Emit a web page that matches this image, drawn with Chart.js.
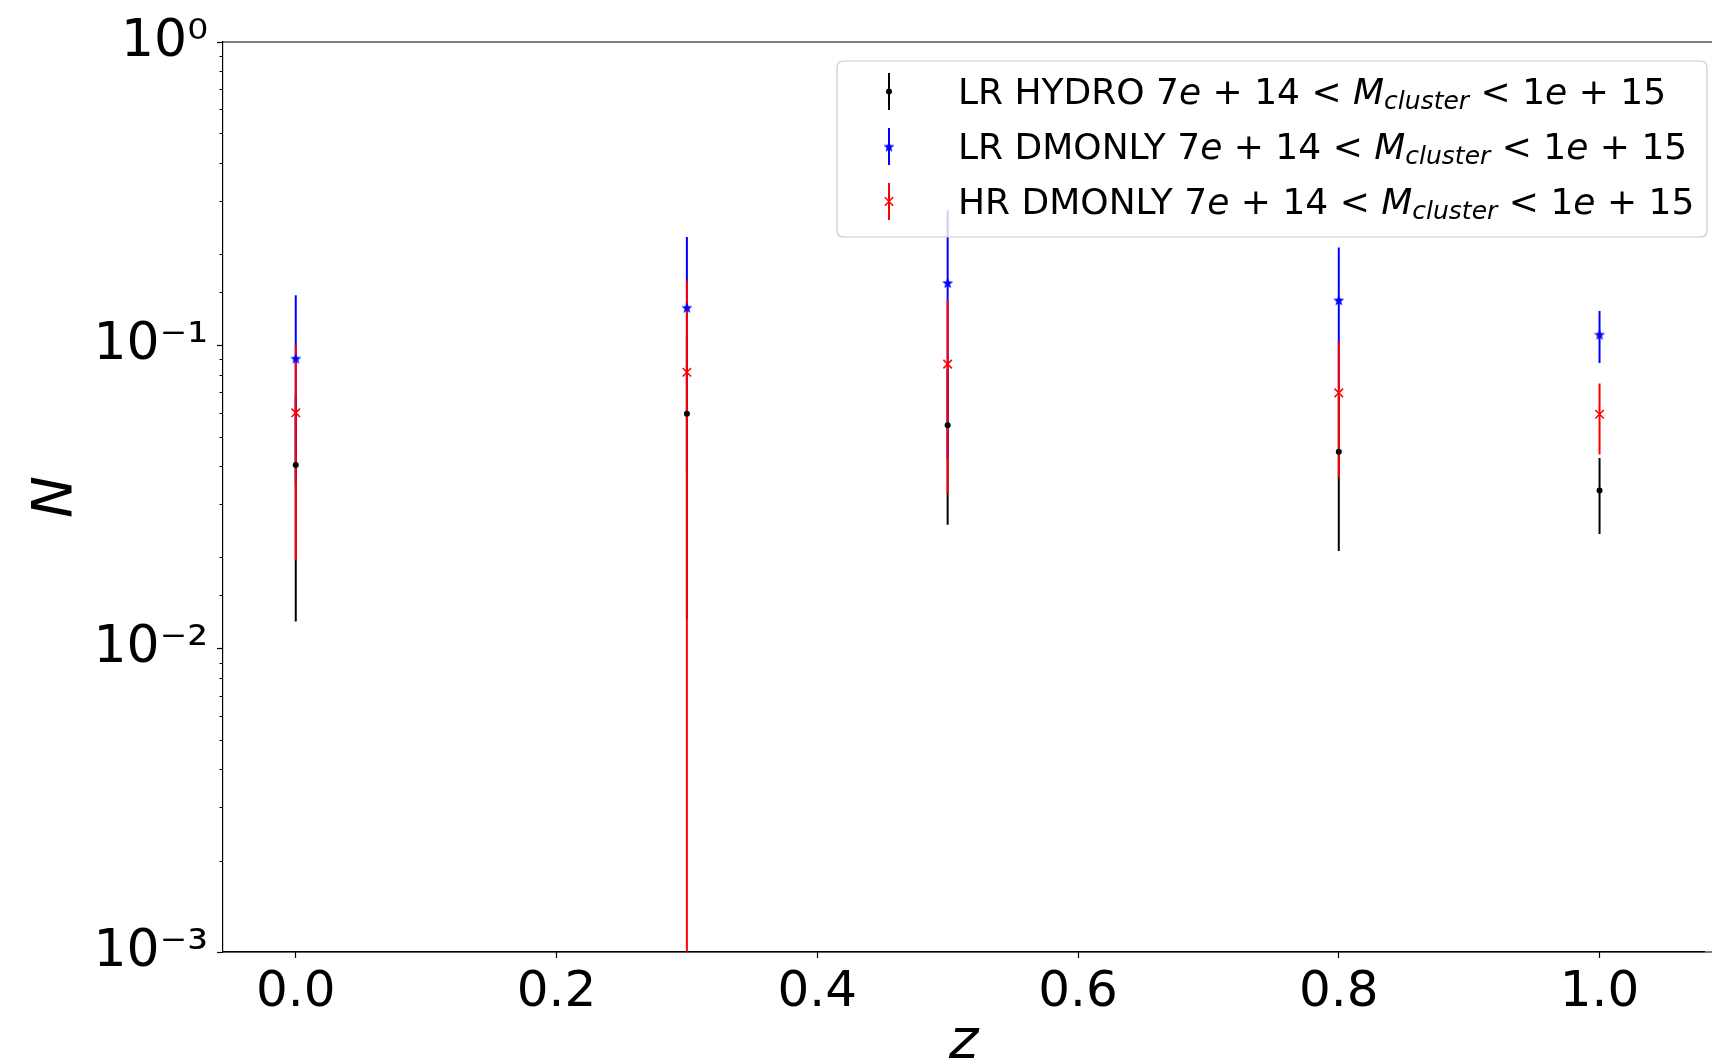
<!DOCTYPE html>
<html lang="en">
<head>
<meta charset="UTF-8">
<title>N vs z</title>
<script src="https://cdn.jsdelivr.net/npm/chart.js"></script>
<style>
  html, body { margin: 0; padding: 0; background: #fff; overflow: hidden; }
  #wrap { width: 1712px; height: 1060px; }
</style>
</head>
<body>
<div id="wrap"><canvas id="chart" width="1712" height="1060"></canvas></div>
<script>
// redshift bins
const zValues = [0.0, 0.3, 0.5, 0.8, 1.0];

// LR HYDRO (black dots)
const hydroLR = [0.0403, 0.0595, 0.0545, 0.0446, 0.0332];
const hydroLRErr = [0.0280, 0.0470, 0.0289, 0.0236, 0.0093];

// LR DMONLY (blue stars)
const dmonlyLR = [0.0905, 0.1332, 0.1607, 0.1409, 0.1086];
const dmonlyLRErr = [0.0558, 0.0944, 0.1183, 0.0693, 0.0212];

// HR DMONLY (red crosses)
const dmonlyHR = [0.0599, 0.0815, 0.0867, 0.0697, 0.0593];
const dmonlyHRErr = [0.0403, 0.0818, 0.0542, 0.0330, 0.0156];

const xTicks = [0.0, 0.2, 0.4, 0.6, 0.8, 1.0];
const yMajorTicks = [1e-3, 1e-2, 1e-1, 1];
const yTickLabels = ['10\u207B\u00B3', '10\u207B\u00B2', '10\u207B\u00B9', '10\u2070'];
const seriesNames = ['LR HYDRO', 'LR DMONLY', 'HR DMONLY'];
const massLow = ['7', '14'];
const massHigh = ['1', '15'];

const FONT = 'DejaVu Sans';

function isMajor(v) {
    return yMajorTicks.some(m => Math.abs(v - m) / m < 1e-6);
}

// filled 5-point star like matplotlib '*'
function starImage(r, color) {
    const c = document.createElement('canvas');
    const s = Math.ceil(r * 2 + 2);
    c.width = s; c.height = s;
    const g = c.getContext('2d');
    g.fillStyle = color;
    g.beginPath();
    for (let i = 0; i < 10; i++) {
        const rad = i % 2 ? r * 0.42 : r;
        const a = -Math.PI / 2 + i * Math.PI / 5;
        g.lineTo(s / 2 + rad * Math.cos(a), s / 2 + rad * Math.sin(a) + 0.5);
    }
    g.closePath();
    g.fill();
    return c;
}
const blueStar = starImage(5.8, '#0000ff');

function pts(vals) {
    return zValues.map((z, i) => ({ x: z, y: vals[i] }));
}

// vertical error bars, drawn under all markers
const errorBars = {
    id: 'errorBars',
    beforeDatasetsDraw(chart) {
        const { ctx, chartArea, scales } = chart;
        ctx.save();
        ctx.beginPath();
        ctx.rect(chartArea.left, chartArea.top, chartArea.right - chartArea.left, chartArea.bottom - chartArea.top);
        ctx.clip();
        chart.data.datasets.forEach(ds => {
            ctx.strokeStyle = ds.barColor;
            ctx.lineWidth = 2;
            ds.data.forEach((p, i) => {
                const lo = p.y - ds.errors[i];
                const hi = p.y + ds.errors[i];
                const px = scales.x.getPixelForValue(p.x);
                const yTop = scales.y.getPixelForValue(hi);
                const yBot = lo > 0 ? scales.y.getPixelForValue(lo) : chartArea.bottom + 5;
                ctx.beginPath();
                ctx.moveTo(px, yTop);
                ctx.lineTo(px, yBot);
                ctx.stroke();
            });
        });
        ctx.restore();
    }
};

// top spine + minor log ticks
const frame = {
    id: 'frame',
    afterDraw(chart) {
        const { ctx, chartArea, scales, width } = chart;
        ctx.save();
        ctx.strokeStyle = '#000';
        ctx.lineWidth = 1.2;
        ctx.beginPath();
        ctx.moveTo(chartArea.left, chartArea.top);
        ctx.lineTo(width, chartArea.top);
        ctx.moveTo(chartArea.left, chartArea.bottom);
        ctx.lineTo(width, chartArea.bottom);
        ctx.stroke();
        ctx.lineWidth = 1;
        scales.y.ticks.forEach(t => {
            if (isMajor(t.value)) return;
            const py = Math.round(scales.y.getPixelForValue(t.value)) + 0.5;
            ctx.beginPath();
            ctx.moveTo(chartArea.left - 3.5, py);
            ctx.lineTo(chartArea.left, py);
            ctx.stroke();
        });
        ctx.restore();
    }
};

// matplotlib-style legend inside the axes
const mplLegend = {
    id: 'mplLegend',
    afterDraw(chart) {
        const { ctx } = chart;
        const box = { x: 837, y: 61, w: 870, h: 176 };
        ctx.save();
        ctx.beginPath();
        ctx.roundRect(box.x, box.y, box.w, box.h, 6);
        ctx.fillStyle = 'rgba(255,255,255,0.8)';
        ctx.fill();
        ctx.strokeStyle = '#cccccc';
        ctx.lineWidth = 1.2;
        ctx.stroke();

        const fs = 36;
        const sub = 25;
        chart.data.datasets.forEach((ds, i) => {
            const cy = 91.5 + i * 55;
            const hx = 889;
            ctx.strokeStyle = ds.barColor;
            ctx.lineWidth = 2;
            ctx.beginPath();
            ctx.moveTo(hx, cy - 18.5);
            ctx.lineTo(hx, cy + 18.5);
            ctx.stroke();
            drawMarker(ctx, ds, hx, cy);

            const base = cy + 12.5;
            const segs = [
                [seriesNames[i] + ' ', 'n'], [massLow[0], 'n'], ['e', 'i'], [' + ', 'n'], [massLow[1], 'n'],
                [' < ', 'n'], ['M', 'i'], ['cluster', 's'], [' < ', 'n'],
                [massHigh[0], 'n'], ['e', 'i'], [' + ', 'n'], [massHigh[1], 'n']
            ];
            let x = 958;
            ctx.fillStyle = '#000';
            ctx.textBaseline = 'alphabetic';
            ctx.textAlign = 'left';
            segs.forEach(([txt, kind]) => {
                if (kind === 'n') ctx.font = fs + 'px "' + FONT + '"';
                else if (kind === 'i') ctx.font = 'italic ' + fs + 'px "' + FONT + '"';
                else ctx.font = 'italic ' + sub + 'px "' + FONT + '"';
                const dy = kind === 's' ? 5 : 0;
                ctx.fillText(txt, x, base + dy);
                x += ctx.measureText(txt).width;
            });
        });
        ctx.restore();
    }
};

function drawMarker(ctx, ds, x, y) {
    if (ds.pointStyle === 'circle') {
        ctx.fillStyle = ds.pointBackgroundColor;
        ctx.beginPath();
        ctx.arc(x, y, ds.pointRadius, 0, Math.PI * 2);
        ctx.fill();
    } else if (ds.pointStyle === 'crossRot') {
        const d = ds.pointRadius * Math.SQRT1_2;
        ctx.strokeStyle = ds.pointBorderColor;
        ctx.lineWidth = ds.pointBorderWidth;
        ctx.beginPath();
        ctx.moveTo(x - d, y - d); ctx.lineTo(x + d, y + d);
        ctx.moveTo(x - d, y + d); ctx.lineTo(x + d, y - d);
        ctx.stroke();
    } else {
        ctx.drawImage(ds.pointStyle, x - ds.pointStyle.width / 2, y - ds.pointStyle.height / 2);
    }
}

new Chart(document.getElementById('chart'), {
    type: 'scatter',
    data: {
        datasets: [
            {
                label: seriesNames[0], data: pts(hydroLR), errors: hydroLRErr, barColor: '#000000',
                pointStyle: 'circle', pointRadius: 3, pointBackgroundColor: '#000000', pointBorderWidth: 0
            },
            {
                label: seriesNames[1], data: pts(dmonlyLR), errors: dmonlyLRErr, barColor: '#0000ff',
                pointStyle: blueStar, pointRadius: 5
            },
            {
                label: seriesNames[2], data: pts(dmonlyHR), errors: dmonlyHRErr, barColor: '#ff0000',
                pointStyle: 'crossRot', pointRadius: 6, pointBorderColor: '#ff0000', pointBorderWidth: 1.5
            }
        ]
    },
    options: {
        responsive: false,
        animation: false,
        layout: { padding: { top: 42, right: 0, left: 0, bottom: 0 } },
        plugins: { legend: { display: false }, tooltip: { enabled: false } },
        scales: {
            x: {
                type: 'linear',
                min: -0.0558,
                max: 1.0805,
                afterBuildTicks(s) { s.ticks = xTicks.map(v => ({ value: v })); },
                afterFit(s) { s.height = 108; },
                ticks: {
                    callback: v => v.toFixed(1),
                    font: { family: FONT, size: 50 },
                    color: '#000',
                    padding: 5,
                    maxRotation: 0
                },
                grid: { drawOnChartArea: false, tickLength: 6, tickColor: '#000', tickWidth: 1.2 },
                border: { color: '#000', width: 1.2 },
                title: {
                    display: true, text: 'z', color: '#000',
                    font: { family: FONT, style: 'italic', size: 56, lineHeight: 0.6 },
                    padding: { top: 0, bottom: 0 }
                }
            },
            y: {
                type: 'logarithmic',
                min: 1e-3,
                max: 1,
                afterFit(s) { s.width = 223; },
                ticks: {
                    autoSkip: false,
                    callback(v) {
                        const k = yMajorTicks.findIndex(m => Math.abs(v - m) / m < 1e-6);
                        return k >= 0 ? yTickLabels[k] : '';
                    },
                    font: { family: FONT, size: 52 },
                    color: '#000',
                    padding: 9
                },
                grid: {
                    drawOnChartArea: false,
                    tickLength: 6,
                    tickWidth: 1.2,
                    tickColor: c => isMajor(c.tick.value) ? '#000' : 'rgba(0,0,0,0)'
                },
                border: { color: '#000', width: 1.2 },
                title: {
                    display: true, text: 'N', color: '#000',
                    font: { family: FONT, style: 'italic', size: 56 },
                    padding: { top: 23, bottom: 0 }
                }
            }
        }
    },
    plugins: [errorBars, frame, mplLegend]
});
</script>
</body>
</html>
